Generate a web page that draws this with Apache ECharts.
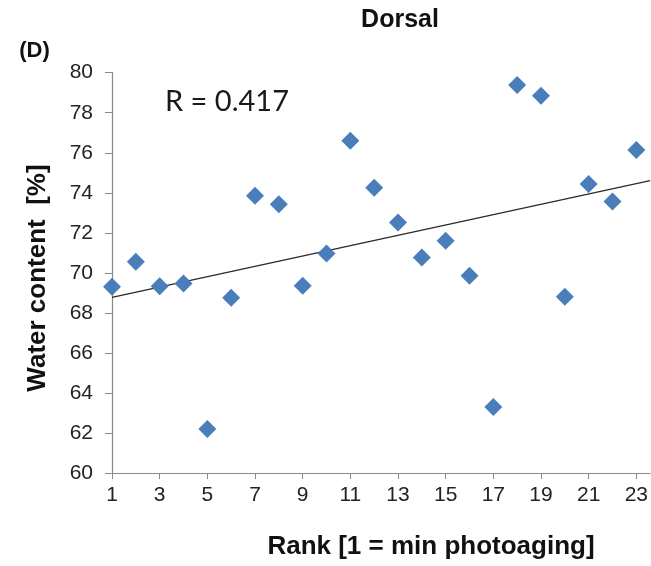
<!DOCTYPE html>
<html>
<head>
<meta charset="utf-8">
<script src="https://cdn.jsdelivr.net/npm/echarts@6/dist/echarts.min.js"></script>
<style>
html,body{margin:0;padding:0;background:#fff;}
#chart{width:651px;height:566px;}
</style>
</head>
<body>
<div id="chart"></div>
<script>
// Data
const ranks = [1,2,3,4,5,6,7,8,9,10,11,12,13,14,15,16,17,18,19,20,21,22,23];
const waterContent = [69.3,70.55,69.33,69.47,62.2,68.75,73.85,73.43,69.35,70.97,76.6,74.25,72.52,70.77,71.6,69.85,63.3,79.39,78.85,68.8,74.44,73.56,76.14];
const xTickLabels = [1,3,5,7,9,11,13,15,17,19,21,23];
const yTickLabels = [60,62,64,66,68,70,72,74,76,78,80];
const titleText = 'Dorsal';
const panelLabel = '(D)';
const rText = 'R = 0.417';
const xName = 'Rank [1 = min photoaging]';
const yName = 'Water content  [%]';

const xMin = 1, xMax = 23.58;

// least-squares trend line from the data
const n = ranks.length;
const mx = ranks.reduce((a,b)=>a+b,0)/n;
const my = waterContent.reduce((a,b)=>a+b,0)/n;
let sxy = 0, sxx = 0;
for (let i=0;i<n;i++){ sxy += (ranks[i]-mx)*(waterContent[i]-my); sxx += (ranks[i]-mx)*(ranks[i]-mx); }
const slope = sxy/sxx, icpt = my - slope*mx;
const trend = [[xMin, icpt+slope*xMin],[xMax, icpt+slope*xMax]];

const chart = echarts.init(document.getElementById('chart'), null, {renderer:'canvas'});
const axisGray = '#8a8a8a';
chart.setOption({
  animation:false,
  backgroundColor:'#ffffff',
  grid:{left:112, right:0, top:72.7, bottom:93, containLabel:false},
  xAxis:{
    type:'value', min:xMin, max:xMax, interval:2,
    axisLine:{show:true, lineStyle:{color:axisGray, width:1.2}},
    axisTick:{show:true, length:6, lineStyle:{color:axisGray}},
    splitLine:{show:false},
    axisLabel:{
      margin:12, fontFamily:'Liberation Sans, Arial', fontSize:21, color:'#222',
      formatter:v => xTickLabels.indexOf(v) >= 0 ? String(v) : '',
      showMaxLabel:false
    }
  },
  yAxis:{
    type:'value', min:60, max:80, interval:2,
    axisLine:{show:true, lineStyle:{color:axisGray, width:1.2}},
    axisTick:{show:true, length:7, lineStyle:{color:axisGray}},
    splitLine:{show:false},
    axisLabel:{
      margin:19, fontFamily:'Liberation Sans, Arial', fontSize:21, color:'#222',
      formatter:v => yTickLabels.indexOf(v) >= 0 ? String(v) : ''
    }
  },
  series:[
    {
      type:'line', data:trend, symbol:'none', silent:true,
      lineStyle:{color:'#2a2a2a', width:1.3}, z:1
    },
    {
      type:'scatter', data:ranks.map((r,i)=>[r, waterContent[i]]),
      symbol:'diamond', symbolSize:[18,18],
      itemStyle:{color:'#4a7ebb', opacity:1}, z:2
    }
  ],
  graphic:[
    {type:'text', style:{x:400, y:20, text:titleText, font:'bold 25px "Liberation Sans", Arial', fill:'#111', textAlign:'center', textVerticalAlign:'middle'}},
    {type:'text', style:{x:34.5, y:51, text:panelLabel, font:'bold 22px "Liberation Sans", Arial', fill:'#111', textAlign:'center', textVerticalAlign:'middle'}},
    {type:'text', style:{x:165, y:102, text:rText, font:'29px Lato', fill:'#1a1a1a', textAlign:'left', textVerticalAlign:'middle'}},
    {type:'text', style:{x:431, y:547, text:xName, font:'bold 26px "Liberation Sans", Arial', fill:'#111', textAlign:'center', textVerticalAlign:'middle'}},
    {type:'text', rotation:Math.PI/2, x:38, y:278, style:{x:0, y:0, text:yName, font:'bold 26px "Liberation Sans", Arial', fill:'#111', textAlign:'center', textVerticalAlign:'middle'}}
  ]
});
</script>
</body>
</html>
